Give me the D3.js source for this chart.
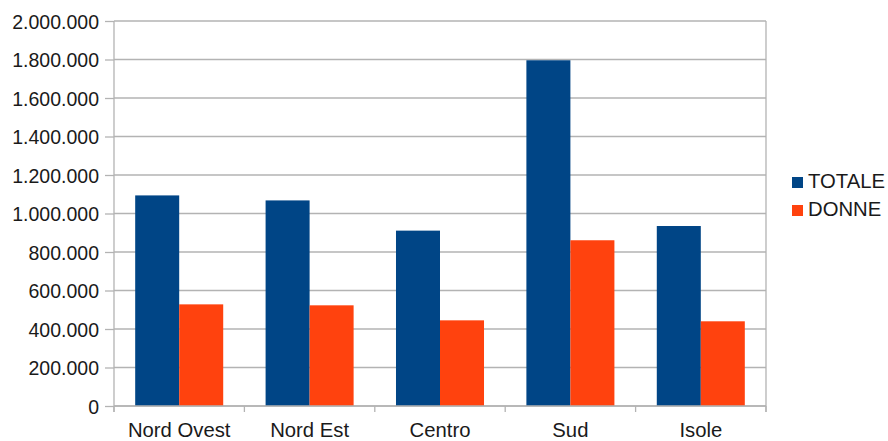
<!DOCTYPE html>
<html><head><meta charset="utf-8">
<script src="https://cdn.jsdelivr.net/npm/d3@7/dist/d3.min.js"></script>
<style>body{margin:0;background:#fff}svg{display:block;font-family:"Liberation Sans",Arial,sans-serif}</style>
</head><body><svg id="c" width="888" height="441"></svg>
<script>
const categories = ["Nord Ovest","Nord Est","Centro","Sud","Isole"];
const seriesNames = ["TOTALE","DONNE"];
const totale = [1094000,1068000,911000,1796000,935000];
const donne = [528000,523000,445000,861000,440000];
const yTicks = [0,200000,400000,600000,800000,1000000,1200000,1400000,1600000,1800000,2000000];
const colors = ["#004586","#ff420e"];

const svg = d3.select("#c");
const L=114, R=766, T=21, B=406;
const x = d3.scaleBand().domain(categories).range([L,R]).paddingInner(0.325).paddingOuter(0.1625);
const xs = d3.scaleBand().domain(seriesNames).range([0,x.bandwidth()]);
const y = d3.scaleLinear().domain([0,2000000]).range([B,T]);
const fmt = d3.formatLocale({decimal:",",thousands:".",grouping:[3],currency:["",""]}).format(",d");
const gridC="#b3b3b3", txtC="#1a1a1a";

// gridlines
svg.append("g").selectAll("line").data(yTicks).join("line")
  .attr("x1",L).attr("x2",R).attr("y1",d=>y(d)).attr("y2",d=>y(d))
  .attr("stroke",gridC).attr("stroke-width",1.3);

// y axis
const ya = svg.append("g").attr("transform",`translate(${L},0)`)
  .call(d3.axisLeft(y).tickValues(yTicks).tickFormat(fmt).tickSize(9).tickPadding(6));
ya.select(".domain").remove();
ya.selectAll(".tick line").attr("stroke",gridC).attr("stroke-width",1.3);
ya.selectAll("text").attr("fill",txtC).style("font-size","19.5px").attr("dy","0.36em");

// vertical borders
svg.append("line").attr("x1",L).attr("x2",L).attr("y1",T).attr("y2",B+6).attr("stroke",gridC).attr("stroke-width",1.3);
svg.append("line").attr("x1",R).attr("x2",R).attr("y1",T).attr("y2",B+6).attr("stroke",gridC).attr("stroke-width",1.3);

// bars
const data = categories.map((c,i)=>({c, vals:[totale[i],donne[i]]}));
const g = svg.append("g").selectAll("g").data(data).join("g").attr("transform",d=>`translate(${x(d.c)},0)`);
g.selectAll("rect").data(d=>d.vals.map((v,j)=>({s:seriesNames[j],v,j}))).join("rect")
  .attr("x",d=>xs(d.s)).attr("width",xs.bandwidth())
  .attr("y",d=>y(d.v)).attr("height",d=>B-y(d.v)).attr("fill",d=>colors[d.j]);

// x axis
const step = (R-L)/categories.length;
const bounds = d3.range(categories.length+1).map(i=>L+i*step);
svg.append("line").attr("x1",L).attr("x2",R).attr("y1",B).attr("y2",B).attr("stroke",gridC).attr("stroke-width",1.3);
svg.append("g").selectAll("line").data(bounds).join("line")
  .attr("x1",d=>d).attr("x2",d=>d).attr("y1",B).attr("y2",B+6).attr("stroke",gridC).attr("stroke-width",1.3);
svg.append("g").selectAll("text").data(categories).join("text")
  .attr("x",d=>x(d)+x.bandwidth()/2).attr("y",437).attr("text-anchor","middle")
  .attr("fill",txtC).style("font-size","20.3px").text(d=>d);

// legend
const lg = svg.append("g").selectAll("g").data(seriesNames).join("g")
  .attr("transform",(d,i)=>`translate(792,${177+i*28})`);
lg.append("rect").attr("width",11).attr("height",11).attr("fill",(d,i)=>colors[i]);
lg.append("text").attr("x",16).attr("y",11).attr("fill",txtC).style("font-size","20.3px").text(d=>d);
</script></body></html>
